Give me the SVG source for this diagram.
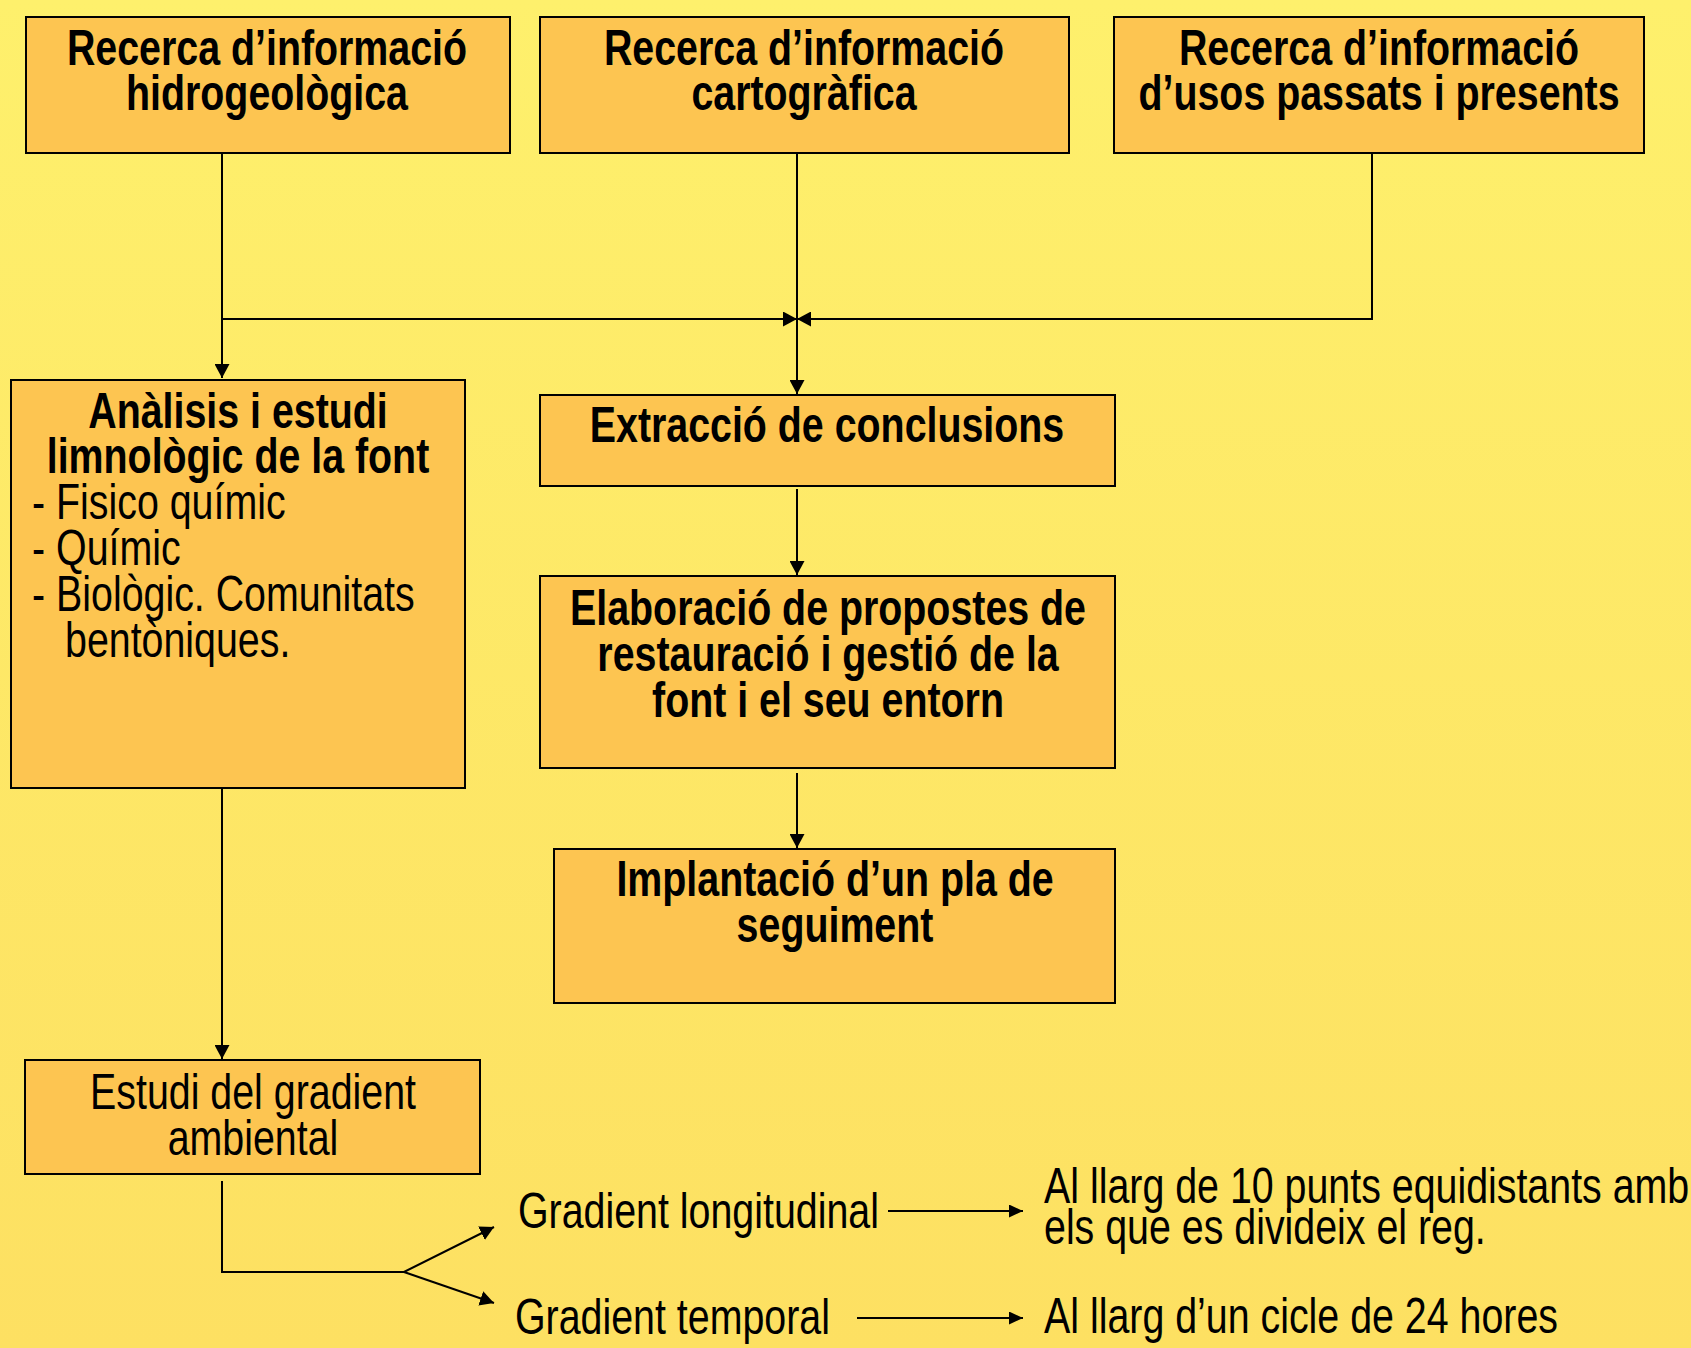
<svg xmlns="http://www.w3.org/2000/svg" width="1691" height="1348" viewBox="0 0 1691 1348">
<defs>
<linearGradient id="bg" x1="0" y1="0" x2="0" y2="1">
<stop offset="0" stop-color="#FEF06C"/>
<stop offset="1" stop-color="#FDE062"/>
</linearGradient>
<marker id="ah" markerUnits="userSpaceOnUse" markerWidth="15" markerHeight="15" refX="14" refY="7.5" orient="auto">
<path d="M0,0 L14,7.5 L0,15 z" fill="#000"/>
</marker>
<marker id="ahs" markerUnits="userSpaceOnUse" markerWidth="15" markerHeight="13" refX="14" refY="6.5" orient="auto">
<path d="M0,0 L14,6.5 L0,13 z" fill="#000"/>
</marker>
</defs>
<style>
.box{fill:#FDC551;stroke:#000;stroke-width:2}
.t{font-family:'Liberation Sans',Arial,sans-serif;font-size:50px;fill:#000}
.b{font-weight:bold}
.c{text-anchor:middle}
.ln{fill:none;stroke:#000;stroke-width:2}
</style>
<rect width="1691" height="1348" fill="url(#bg)"/>
<g id="connectors">
<path class="ln" d="M222,153 V378" marker-end="url(#ah)"/>
<path class="ln" d="M222,319 H797" marker-end="url(#ah)"/>
<path class="ln" d="M1372,153 V319 H797" marker-end="url(#ah)"/>
<path class="ln" d="M797,153 V394" marker-end="url(#ah)"/>
<path class="ln" d="M797,489 V575" marker-end="url(#ah)"/>
<path class="ln" d="M797,773 V848" marker-end="url(#ah)"/>
<path class="ln" d="M222,788 V1059" marker-end="url(#ah)"/>
<path class="ln" d="M222,1181 V1272 H404 L494,1227" marker-end="url(#ah)"/>
<path class="ln" d="M404,1272 L494,1303" marker-end="url(#ah)"/>
<path class="ln" d="M888,1211 H1023" marker-end="url(#ahs)"/>
<path class="ln" d="M857,1318 H1023" marker-end="url(#ahs)"/>
</g>
<g id="n1">
<rect class="box" x="26" y="17" width="484" height="136"/>
<text class="t b c" transform="translate(267,65) scale(0.787,1)">Recerca d’informació</text>
<text class="t b c" transform="translate(267,110) scale(0.787,1)">hidrogeològica</text>
</g>
<g id="n2">
<rect class="box" x="540" y="17" width="529" height="136"/>
<text class="t b c" transform="translate(804,65) scale(0.787,1)">Recerca d’informació</text>
<text class="t b c" transform="translate(804,110) scale(0.787,1)">cartogràfica</text>
</g>
<g id="n3">
<rect class="box" x="1114" y="17" width="530" height="136"/>
<text class="t b c" transform="translate(1379,65) scale(0.787,1)">Recerca d’informació</text>
<text class="t b c" transform="translate(1379,110) scale(0.787,1)">d’usos passats i presents</text>
</g>
<g id="n4">
<rect class="box" x="11" y="380" width="454" height="408"/>
<text class="t b c" transform="translate(238,428) scale(0.787,1)">Anàlisis i estudi</text>
<text class="t b c" transform="translate(238,473) scale(0.787,1)">limnològic de la font</text>
<text class="t" transform="translate(32,519) scale(0.787,1)">- Fisico químic</text>
<text class="t" transform="translate(32,565) scale(0.787,1)">- Químic</text>
<text class="t" transform="translate(32,611) scale(0.787,1)">- Biològic. Comunitats</text>
<text class="t" transform="translate(65,657) scale(0.787,1)">bentòniques.</text>
</g>
<g id="n5">
<rect class="box" x="540" y="395" width="575" height="91"/>
<text class="t b c" transform="translate(827,442) scale(0.787,1)">Extracció de conclusions</text>
</g>
<g id="n6">
<rect class="box" x="540" y="576" width="575" height="192"/>
<text class="t b c" transform="translate(828,625) scale(0.787,1)">Elaboració de propostes de</text>
<text class="t b c" transform="translate(828,671) scale(0.787,1)">restauració i gestió de la</text>
<text class="t b c" transform="translate(828,717) scale(0.787,1)">font i el seu entorn</text>
</g>
<g id="n7">
<rect class="box" x="554" y="849" width="561" height="154"/>
<text class="t b c" transform="translate(835,896) scale(0.787,1)">Implantació d’un pla de</text>
<text class="t b c" transform="translate(835,942) scale(0.787,1)">seguiment</text>
</g>
<g id="n8">
<rect class="box" x="25" y="1060" width="455" height="114"/>
<text class="t c" transform="translate(253,1109) scale(0.787,1)">Estudi del gradient</text>
<text class="t c" transform="translate(253,1155) scale(0.787,1)">ambiental</text>
</g>
<g id="n9">
<text class="t" transform="translate(518,1228) scale(0.787,1)">Gradient longitudinal</text>
</g>
<g id="n10">
<text class="t" transform="translate(515,1334) scale(0.787,1)">Gradient temporal</text>
</g>
<g id="n11">
<text class="t" transform="translate(1044,1203) scale(0.787,1)">Al llarg de 10 punts equidistants amb</text>
<text class="t" transform="translate(1044,1244) scale(0.787,1)">els que es divideix el reg.</text>
</g>
<g id="n12">
<text class="t" transform="translate(1044,1333) scale(0.787,1)">Al llarg d’un cicle de 24 hores</text>
</g>
</svg>
